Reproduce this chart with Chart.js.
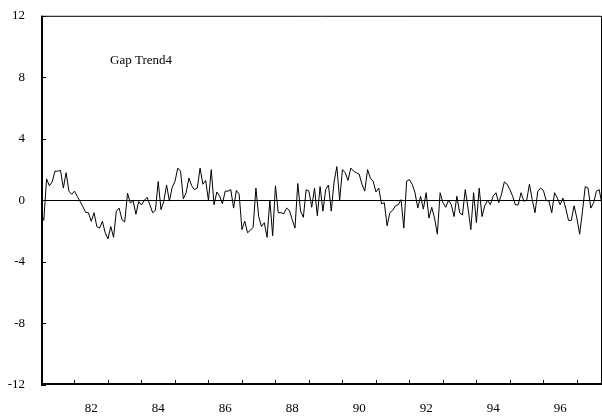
<!DOCTYPE html>
<html>
<head>
<meta charset="utf-8">
<script src="https://cdn.jsdelivr.net/npm/chart.js@4.4.1/dist/chart.umd.min.js"></script>
<style>
  html, body { margin: 0; padding: 0; background: #fff; }
</style>
</head>
<body>
<canvas id="gap" width="602" height="418"></canvas>
<script>
// monthly series, first observation 1981:01
const startYear = 1981;
const gapValues = [
  -0.82, -1.3, 1.4, 0.95, 1.2, 1.9, 1.9, 1.95, 0.8, 1.8, 0.6, 0.4, 0.6, 0.26,
  -0.07, -0.4, -0.78, -0.8, -1.36, -0.8, -1.7, -1.8, -1.36, -2.1, -2.5, -1.7, -2.4, -0.7,
  -0.5, -1.25, -1.4, 0.47, -0.17, -0.02, -0.9, -0.07, -0.3, 0, 0.2, -0.28, -0.8, -0.65,
  1.23, -0.6, -0.05, 1.0, -0.05, 0.85, 1.23, 2.1, 1.9, 0.1, 0.5, 1.45, 0.95, 0.7,
  0.8, 2.1, 1.05, 1.3, 0, 2.0, -0.28, 0.55, 0.27, -0.22, 0.6, 0.6, 0.7, -0.5, 0.65,
  0.4, -1.9, -1.35, -2.1, -1.95, -1.75, 0.8, -1.05, -1.7, -1.45, -2.4, 0, -2.3,
  0.95, -0.8, -0.8, -0.87, -0.5, -0.65, -1.25, -1.8, 1.1, -0.7, -1.1, 0.7, 0.6, -0.45,
  0.8, -1.0, 0.9, -0.7, 0.7, 1.0, -0.7, 1.2, 2.2, 0, 2.0, 1.8, 1.3, 2.1, 1.9,
  1.8, 1.7, 1.05, 0.6, 2.0, 1.45, 1.25, 0.55, 0.8, -0.22, -0.15, -1.65, -0.8, -0.65,
  -0.35, -0.28, 0.05, -1.8, 1.25, 1.35, 1.05, 0.5, -0.5, 0.27, -0.57, 0.5, -1.15, -0.45, -1.15,
  -2.2, 0.5, -0.15, -0.45, 0, -0.28, -1.05, 0.27, -0.8, -0.95, 0.7, -0.5, -1.9, 0.5,
  -1.45, 0.8, -1.05, -0.35, 0, -0.28, 0.27, 0.5, -0.15, 0.4, 1.2, 1.05, 0.7, 0.27, -0.3,
  -0.28, 0.5, -0.05, 0, 1.05, 0.05, -0.8, 0.6, 0.8, 0.65, 0, -0.05, -0.8, 0.5, 0.15,
  -0.28, 0.15, -0.5, -1.3, -1.3, -0.35, -1.15, -2.2, -0.7, 0.9, 0.8, -0.5, -0.15, 0.6, 0.7, -0.28
];
const xTickLabels = ['82', '84', '86', '88', '90', '92', '94', '96'];
const yTicks = [-12, -8, -4, 0, 4, 8, 12];
const seriesName = 'Gap Trend4';

const points = gapValues.map((v, i) => ({ x: startYear + i / 12, y: v }));
const lastX = points[points.length - 1].x;

const serif = '"Liberation Serif", "DejaVu Serif", serif';

// box, zero line, inward tick marks and the series name
const framePlugin = {
  id: 'frame',
  afterDraw(chart) {
    const { ctx, chartArea: a, scales: { x, y } } = chart;
    ctx.save();
    ctx.strokeStyle = '#000';
    ctx.lineWidth = 1;
    ctx.beginPath();
    ctx.moveTo(a.left, a.top + 0.5);
    ctx.lineTo(a.right - 0.5, a.top + 0.5);
    ctx.lineTo(a.right - 0.5, a.bottom);
    const y0 = Math.round(y.getPixelForValue(0)) + 0.5;
    ctx.moveTo(a.left, y0);
    ctx.lineTo(a.right, y0);
    yTicks.forEach(t => {
      const py = Math.round(y.getPixelForValue(t)) + 0.5;
      ctx.moveTo(a.left, py);
      ctx.lineTo(a.left + 5, py);
    });
    for (let yr = Math.ceil(x.min); yr <= x.max; yr++) {
      const px = Math.round(x.getPixelForValue(yr)) + 0.5;
      ctx.moveTo(px, a.bottom);
      ctx.lineTo(px, a.bottom - 5);
    }
    ctx.stroke();
    ctx.lineWidth = 2;
    ctx.beginPath();
    ctx.moveTo(a.left + 1, a.top);
    ctx.lineTo(a.left + 1, a.bottom - 1);
    ctx.lineTo(a.right, a.bottom - 1);
    ctx.stroke();
    ctx.fillStyle = '#000';
    ctx.font = '13px ' + serif;
    ctx.textBaseline = 'middle';
    ctx.fillText(seriesName, x.getPixelForValue(1983.06), y.getPixelForValue(9.1));
    ctx.restore();
  }
};

new Chart(document.getElementById('gap'), {
  type: 'line',
  data: {
    datasets: [{
      label: seriesName,
      data: points,
      borderColor: '#000',
      borderWidth: 1,
      pointRadius: 0,
      tension: 0,
      fill: false
    }]
  },
  options: {
    responsive: false,
    animation: false,
    layout: { padding: { top: 14, right: 0, left: 0, bottom: 0 } },
    plugins: {
      legend: { display: false },
      tooltip: { enabled: false }
    },
    scales: {
      x: {
        type: 'linear',
        min: startYear,
        max: lastX,
        grid: { display: false },
        border: { display: false },
        afterBuildTicks: (scale) => {
          scale.ticks = xTickLabels.map(l => ({ value: 1900 + Number(l) + 0.5 }));
        },
        afterFit: (scale) => { scale.height = 33; },
        ticks: {
          autoSkip: false,
          maxRotation: 0,
          padding: 8,
          color: '#000',
          font: { family: serif, size: 13 },
          callback: (v) => String(Math.floor(v)).slice(2)
        }
      },
      y: {
        min: -12,
        max: 12,
        grid: { display: false },
        border: { display: false },
        afterBuildTicks: (scale) => {
          scale.ticks = yTicks.map(v => ({ value: v }));
        },
        afterFit: (scale) => { scale.width = 41; },
        ticks: {
          padding: 8,
          color: '#000',
          font: { family: serif, size: 13 }
        }
      }
    }
  },
  plugins: [framePlugin]
});
</script>
</body>
</html>
